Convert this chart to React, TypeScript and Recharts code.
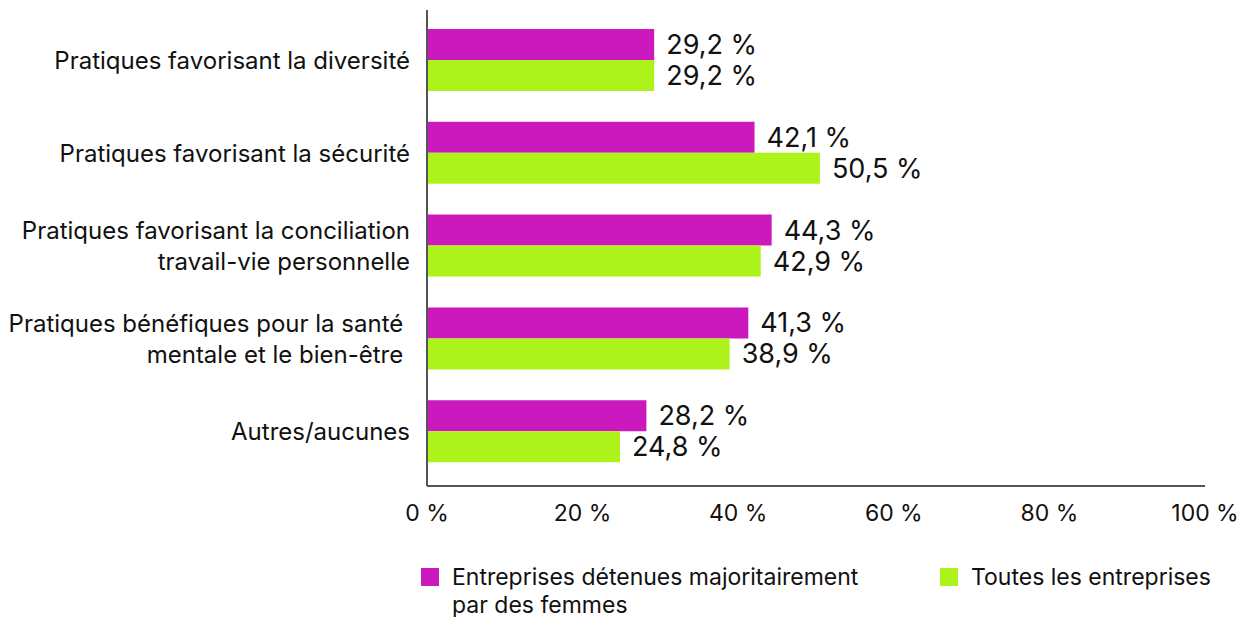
import { BarChart, Bar, XAxis, YAxis, LabelList } from "recharts"

const categories = [
  "Pratiques favorisant la diversité",
  "Pratiques favorisant la sécurité",
  "Pratiques favorisant la conciliation\ntravail-vie personnelle",
  "Pratiques bénéfiques pour la santé \nmentale et le bien-être ",
  "Autres/aucunes",
]

const femmes = [29.2, 42.1, 44.3, 41.3, 28.2]
const toutes = [29.2, 50.5, 42.9, 38.9, 24.8]

const xTicks = [0, 20, 40, 60, 80, 100]

const series = [
  { key: "femmes", name: "Entreprises détenues majoritairement par des femmes", color: "#CB19BD" },
  { key: "toutes", name: "Toutes les entreprises", color: "#ADF31B" },
]

const data = categories.map((name, i) => ({ name, femmes: femmes[i], toutes: toutes[i] }))

const FONT = "Inter, 'Noto Sans', sans-serif"
const AXIS = "#555"

const pct = (v: number) => `${v.toFixed(1).replace(".", ",")} %`

function CategoryTick({ x, y, payload }: any) {
  const lines = String(payload.value).split("\n")
  const lh = 31
  const y0 = y - ((lines.length - 1) * lh) / 2
  return (
    <text x={x} y={y0} textAnchor="end" fill="#111" fontSize={24} fontFamily={FONT} style={{ whiteSpace: "pre" }}>
      {lines.map((l, i) => (
        <tspan key={i} x={x} dy={i === 0 ? "0.36em" : lh}>
          {l}
        </tspan>
      ))}
    </text>
  )
}

export default function App() {
  return (
    <div style={{ position: "absolute", left: 0, top: 0, width: 1242, height: 617, background: "#fff" }}>
      <BarChart
        width={1242}
        height={617}
        data={data}
        layout="vertical"
        margin={{ top: 10, right: 37, left: 0, bottom: 81 }}
        barSize={31}
        barGap={0}
      >
        <XAxis
          type="number"
          domain={[0, 100]}
          ticks={xTicks}
          tickFormatter={(v) => `${v} %`}
          height={50}
          axisLine={{ stroke: AXIS, strokeWidth: 2 }}
          tickLine={false}
          tickMargin={13}
          tick={{ fill: "#111", fontSize: 23, fontFamily: FONT }}
        />
        <YAxis
          type="category"
          dataKey="name"
          width={427}
          padding={{ top: 4, bottom: 8 }}
          axisLine={{ stroke: AXIS, strokeWidth: 2 }}
          tickLine={false}
          tickMargin={11}
          interval={0}
          tick={<CategoryTick />}
        />
        {series.map((s) => (
          <Bar key={s.key} dataKey={s.key} name={s.name} fill={s.color} isAnimationActive={false}>
            <LabelList
              dataKey={s.key}
              position="right"
              offset={12}
              formatter={(v: any) => pct(Number(v))}
              style={{ fill: "#111", fontSize: 27, fontFamily: FONT }}
            />
          </Bar>
        ))}
      </BarChart>
      <div style={{ position: "absolute", top: 563, left: 421, display: "flex", fontFamily: FONT, fontSize: 23, color: "#111", lineHeight: "28px" }}>
        {series.map((s, i) => (
          <div key={s.key} style={{ display: "flex", alignItems: "flex-start", width: i === 0 ? 519 : 320 }}>
            <span style={{ width: 18, height: 18, background: s.color, marginTop: 5, marginRight: 13, flex: "none" }} />
            <span style={{ width: i === 0 ? 440 : 300 }}>{s.name}</span>
          </div>
        ))}
      </div>
    </div>
  )
}
